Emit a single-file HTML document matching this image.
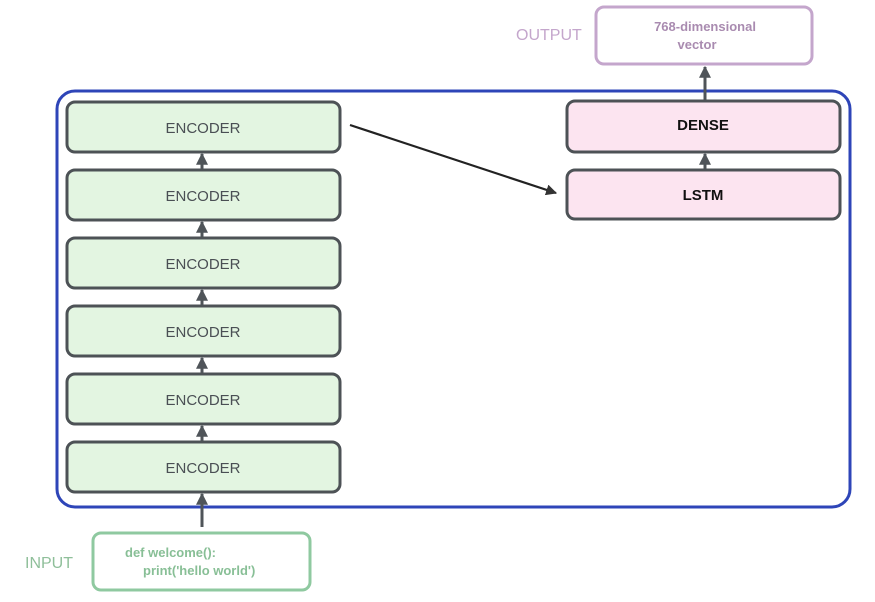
<!DOCTYPE html>
<html><head><meta charset="utf-8"><style>body{margin:0;background:#fff}svg{display:block}</style></head><body>
<svg width="875" height="602" viewBox="0 0 875 602" xmlns="http://www.w3.org/2000/svg" font-family="Liberation Sans, sans-serif">
<defs>
<marker id="g" viewBox="0 0 10 10" refX="9" refY="5" markerWidth="4" markerHeight="4" orient="auto"><path d="M0,0L10,5L0,10z" fill="#4f5459"/></marker>
<marker id="k" viewBox="0 0 10 10" refX="9" refY="5" markerWidth="5" markerHeight="5" orient="auto"><path d="M0,0L10,5L0,10z" fill="#333"/></marker>
</defs>
<rect x="57" y="91" width="793" height="416" rx="18" fill="none" stroke="#2e45b8" stroke-width="3"/>
<g fill="#e3f5e1" stroke="#4d5256" stroke-width="3">
<rect x="67" y="102" width="273" height="50" rx="8"/>
<rect x="67" y="170" width="273" height="50" rx="8"/>
<rect x="67" y="238" width="273" height="50" rx="8"/>
<rect x="67" y="306" width="273" height="50" rx="8"/>
<rect x="67" y="374" width="273" height="50" rx="8"/>
<rect x="67" y="442" width="273" height="50" rx="8"/>
</g>
<g fill="#4a4f54" font-size="15" text-anchor="middle">
<text x="203" y="133">ENCODER</text>
<text x="203" y="201">ENCODER</text>
<text x="203" y="269">ENCODER</text>
<text x="203" y="337">ENCODER</text>
<text x="203" y="405">ENCODER</text>
<text x="203" y="473">ENCODER</text>
</g>
<g stroke="#4f5459" stroke-width="3" marker-end="url(#g)">
<line x1="202" y1="169" x2="202" y2="154"/>
<line x1="202" y1="237" x2="202" y2="222"/>
<line x1="202" y1="305" x2="202" y2="290"/>
<line x1="202" y1="373" x2="202" y2="358"/>
<line x1="202" y1="441" x2="202" y2="426"/>
<line x1="202" y1="527" x2="202" y2="494"/>
<line x1="705" y1="169" x2="705" y2="154"/>
<line x1="705" y1="100" x2="705" y2="67"/>
</g>
<g fill="#fce4f0" stroke="#4d5256" stroke-width="3">
<rect x="567" y="101" width="273" height="51" rx="8"/>
<rect x="567" y="170" width="273" height="49" rx="8"/>
</g>
<g fill="#111" font-size="15" font-weight="bold" text-anchor="middle">
<text x="703" y="130">DENSE</text>
<text x="703" y="200">LSTM</text>
</g>
<line x1="350" y1="125" x2="556" y2="193" stroke="#222" stroke-width="2.2" marker-end="url(#k)"/>
<rect x="596" y="7" width="216" height="57" rx="8" fill="#fff" stroke="#c4a6cc" stroke-width="3"/>
<g fill="#a98bb0" font-size="13" font-weight="bold" text-anchor="middle">
<text x="705" y="31">768-dimensional</text>
<text x="697" y="49">vector</text>
</g>
<text x="516" y="40" fill="#c4a6cc" font-size="16">OUTPUT</text>
<rect x="93" y="533" width="217" height="57" rx="8" fill="#fff" stroke="#8fc9a0" stroke-width="3"/>
<g fill="#88bf96" font-size="13" font-weight="bold">
<text x="125" y="557">def welcome():</text>
<text x="143" y="575">print('hello world')</text>
</g>
<text x="25" y="568" fill="#8fbf9a" font-size="16">INPUT</text>
</svg>
</body></html>
